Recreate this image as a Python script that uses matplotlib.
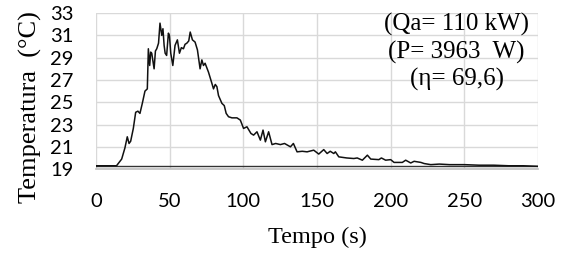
import matplotlib
matplotlib.use("Agg")
import matplotlib.pyplot as plt

# temperature trace
tempo = [0, 14, 17.5, 19.7, 21.3, 22.5, 23.6, 25.4, 27, 28.5, 29.9, 31.5, 33.3, 34.9,
         35.6, 36.5, 37.2, 37.9, 38.7, 39.5, 40.4, 41.3, 42.5, 43.5, 44.7, 45.5, 46.3,
         47, 48, 49.2, 49.9, 50.8, 52.2, 53.7, 55.3, 56.7, 58, 59.4, 60.5, 61.7, 63, 64,
         65.5, 67.3, 68.9, 70.7, 71.9, 73, 74.1, 76.4, 78.7, 79.8, 81, 82.1, 83.2, 85.5,
         87.1, 88.4, 90, 92.3, 95.7, 98, 100.2, 102.5, 105.2, 107, 109.3, 111.6, 113.4,
         115, 117.2, 119.5, 122, 125.2, 128, 132, 134, 136.5, 140, 143.3, 147.8, 151.2,
         154.6, 156.9, 159, 161.4, 162.5, 164.8, 170.2, 175, 177.3, 180.8, 184.2, 186.5,
         192, 193.7, 196.6, 200, 202.3, 207.9, 210.2, 213.6, 215.9, 220.5, 222.7, 227.2,
         233, 240, 250, 260, 270, 280, 290, 300]
temperatura = [19.3, 19.3, 19.9, 20.9, 21.9, 21.3, 21.5, 22.65, 24.1, 24.2, 24.0, 24.9,
               26.0, 26.2, 29.8, 28.3, 29.5, 29.4, 28.7, 28.0, 29.6, 29.8, 30.3, 32.1,
               31.0, 31.6, 30.1, 29.4, 29.2, 31.2, 31.0, 29.4, 28.3, 30.1, 30.6, 29.4,
               29.9, 29.8, 30.2, 30.3, 30.5, 31.3, 30.6, 30.4, 29.7, 28.0, 28.8, 28.3,
               28.5, 27.7, 26.7, 26.2, 26.6, 26.4, 25.6, 24.9, 24.7, 24.0, 23.7, 23.6,
               23.6, 23.4, 22.65, 22.8, 22.2, 22.05, 22.35, 21.6, 22.5, 21.45, 22.35,
               21.2, 21.3, 21.2, 21.3, 21.0, 21.3, 20.55, 20.6, 20.55, 20.7, 20.35, 20.75,
               20.4, 20.6, 20.4, 20.55, 20.1, 20.0, 19.95, 20.0, 19.8, 20.25, 19.9, 19.85,
               20.0, 19.8, 19.85, 19.6, 19.6, 19.8, 19.55, 19.7, 19.6, 19.5, 19.4, 19.45,
               19.4, 19.4, 19.35, 19.35, 19.3, 19.3, 19.25]

# ambient reference line
tempo_amb = [0, 300]
temp_amb = [19.3, 19.3]

x_ticks = [0, 50, 100, 150, 200, 250, 300]
y_ticks = [19, 21, 23, 25, 27, 29, 31, 33]
info = "(Qa= 110 kW)\n(P= 3963  W)\n(\u03b7= 69,6)"

fig = plt.figure(figsize=(5.64, 2.57), dpi=100)
ax = fig.add_axes([0.170, 0.342, 0.784, 0.607])

ax.plot(tempo_amb, temp_amb, color="#333333", lw=1.0)
ax.plot(tempo, temperatura, color="#111111", lw=1.1)

ax.set_xlim(0, 300)
ax.set_ylim(19, 33)
ax.set_xticks(x_ticks)
ax.set_yticks(y_ticks)
ax.grid(True, color="#d9d9d9", lw=1.0)
ax.set_axisbelow(True)
for s in ["top", "right", "left"]:
    ax.spines[s].set_visible(False)
ax.spines["bottom"].set_color("#bfbfbf")
ax.spines["bottom"].set_linewidth(1.2)
ax.tick_params(length=0, labelsize=14.5)
ax.tick_params(axis="y", pad=16)
ax.tick_params(axis="x", pad=17)
for lab in ax.get_xticklabels() + ax.get_yticklabels():
    lab.set_family("Lato")

ax.set_xlabel("Tempo (s)", family="Liberation Serif", fontsize=17.5, labelpad=12)
ax.set_ylabel("Temperatura  (\u00b0C)", family="Liberation Serif", fontsize=19)
ax.yaxis.set_label_coords(-0.122, 0.40)

ax.text(0.816, 1.0, info, transform=ax.transAxes, ha="center", va="top",
        family="Liberation Serif", fontsize=18, linespacing=1.25)

fig.savefig("out.png", dpi=100)
